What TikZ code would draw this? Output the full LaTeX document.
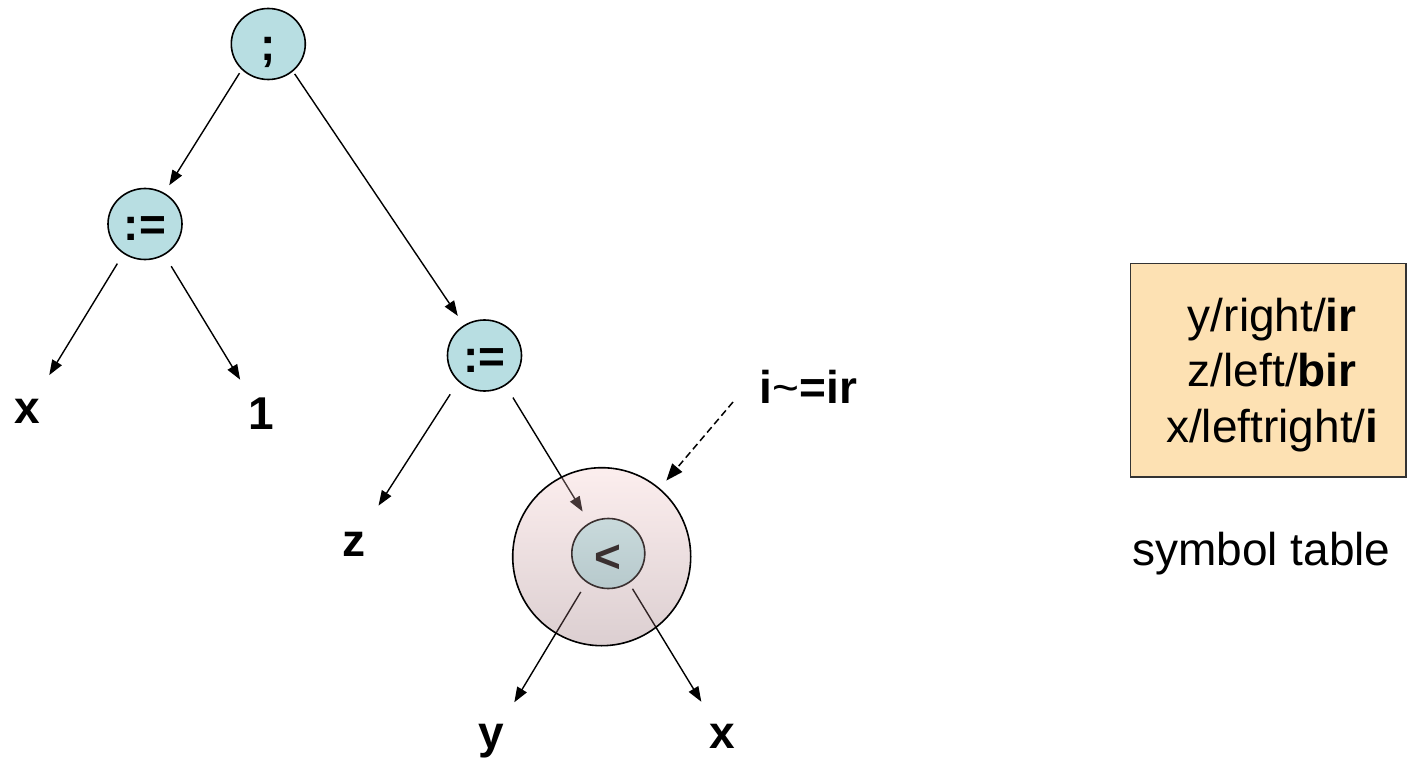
\documentclass[tikz,border=0pt]{standalone}
\usepackage{fontspec}
\setmainfont{Liberation Sans}
\usetikzlibrary{arrows.meta,shapes.geometric}
\pgfdeclarelayer{bg}
\pgfdeclarelayer{mid}
\pgfsetlayers{bg,mid,main}
\definecolor{tealfill}{HTML}{B8DEE2}
\definecolor{ltop}{HTML}{C9DADC}
\definecolor{ltbot}{HTML}{B7C9CC}
\definecolor{ltdraw}{HTML}{3A3030}
\definecolor{bigtop}{HTML}{F5C6C6}
\definecolor{bigbot}{HTML}{8A5F66}
\definecolor{boxfill}{HTML}{FDE1B3}
\definecolor{boxdraw}{HTML}{333333}
\tikzset{
  bigfont/.style={font=\fontsize{46}{55.5}\selectfont},
  lbl/.style={font=\fontsize{46}{55.5}\selectfont\bfseries},
  opnode/.style={ellipse, draw=black, line width=1.6pt, fill=tealfill,
    minimum width=74pt, minimum height=71pt, inner sep=0pt,
    text height=34pt, text depth=0pt, lbl},
  ltnode/.style={ellipse, draw=ltdraw, line width=1.6pt, top color=ltop, bottom color=ltbot,
    minimum width=73pt, minimum height=70pt, inner sep=0pt,
    text height=38pt, text depth=0pt, text=ltdraw, lbl},
  leaf/.style={circle, inner sep=0pt, minimum size=80pt, lbl},
  bigc/.style={circle, draw=black, line width=1.6pt, minimum size=178pt,
    top color=bigtop, bottom color=bigbot, fill opacity=0.3, draw opacity=1},
  conn/.style={line width=1.4pt, -{Triangle[length=15pt,width=11pt]}},
  dconn/.style={line width=1.5pt, dash pattern=on 7pt off 4pt,
    -{Triangle[length=17pt,width=13pt]}},
  tbox/.style={rectangle, draw=boxdraw, line width=1.5pt, fill=boxfill,
    minimum width=275.5pt, minimum height=213.5pt, inner sep=0pt,
    bigfont},
  plaintext/.style={inner sep=0pt, bigfont},
  bldtext/.style={inner sep=0pt, lbl}
}
\begin{document}
\begin{tikzpicture}[x=1pt, y=-1pt]
\useasboundingbox (0,0) rectangle (1407,759);

% operator nodes
\node[opnode] (root) at (268.3,44) {;};
\node[opnode] (lA) at (145,224) {:=};
\node[opnode] (rA) at (484.5,355.5) {:=};
\node[ltnode] (lt) at (608.3,553.5) {<};

% leaves
\node[leaf] (x1) at (27,411.5) {x};
\node[leaf] (one) at (261,414) {1};
\node[leaf] (z) at (353.5,544.5) {z};
\node[leaf] (y) at (491,741) {y};
\node[leaf] (x2) at (722.5,736.5) {x};

% annotation
\node[bldtext, anchor=base] (cmt) at (808.5,403) {i{\mdseries\textasciitilde}=ir};
\coordinate (dstart) at (733,402);

% symbol table
\node[tbox] (tbl) at (1268.25,370.25)
  {\hspace*{8pt}\raisebox{-5.5pt}[\height][\depth]{\begin{tabular}{@{}c@{}}y/right/\textbf{ir}\\z/left/\textbf{bir}\\x/leftright/\textbf{i}\end{tabular}}};
\node[plaintext, anchor=base] (stl) at (1261.5,565) {symbol table};

\begin{pgfonlayer}{mid}
\node[bigc] (big) at (601.7,556.7) {};
\end{pgfonlayer}

\begin{pgfonlayer}{bg}
\draw[conn, shorten <=4pt, shorten >=9pt] (root.224) -- (lA);
\draw[conn, shorten <=3pt, shorten >=11pt] (root.312) -- (rA);
\draw[conn, shorten <=11.5pt, shorten >=2.5pt] (lA.234) -- (x1);
\draw[conn, shorten <=13pt, shorten >=0pt] (lA.302) -- (one);
\draw[conn, shorten <=15pt, shorten >=6pt] (rA.225) -- (z);
\draw[conn, shorten <=14pt, shorten >=13pt] (rA.305) -- (lt);
\draw[conn, shorten <=11pt, shorten >=5pt] (lt.233) -- (y);
\draw[conn, shorten <=6.5pt, shorten >=0.5pt] (lt.305) -- (x2);
\end{pgfonlayer}

\draw[dconn, shorten >=10pt] (dstart) -- (big);
\end{tikzpicture}
\end{document}
